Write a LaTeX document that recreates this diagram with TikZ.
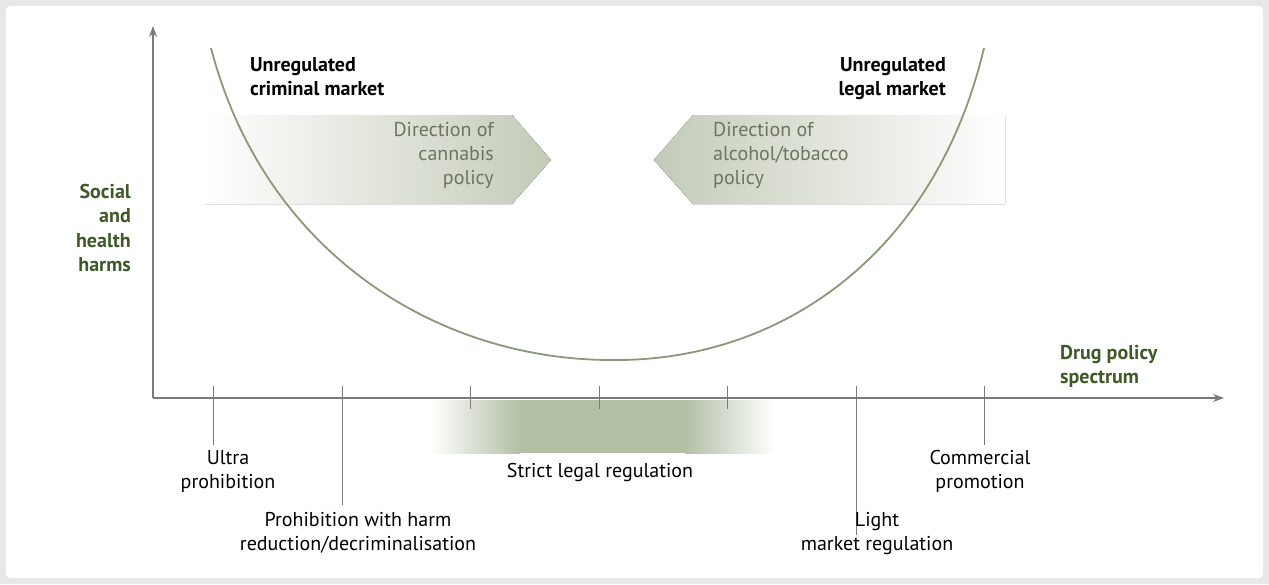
\documentclass[tikz,border=0pt]{standalone}
\usepackage{fontspec}
\setmainfont{PT Sans}
\usetikzlibrary{arrows.meta}
\definecolor{axisgray}{HTML}{7A7A7A}
\definecolor{curvegreen}{HTML}{8A9878}
\definecolor{darkgreen}{HTML}{3F5A28}
\definecolor{shadegreen}{HTML}{C3CBB8}
\definecolor{bandgreen}{HTML}{B3C0A6}
\definecolor{textgreen}{HTML}{6B7560}
\begin{document}
\begin{tikzpicture}[x=1pt,y=-1pt,
  lbl/.style={font=\fontsize{20}{24.3}\selectfont, inner sep=0pt},
  bold/.style={lbl, font=\fontsize{20}{24.3}\selectfont\bfseries},
  axis/.style={axisgray, line width=1.2pt},
  tick/.style={axisgray, line width=1pt}]
\useasboundingbox (0,0) rectangle (1269,584);
\fill[gray!18] (0,0) rectangle (1269,584);
\fill[white, rounded corners=4pt] (6,6) rectangle (1263,578);
% arrows
\fill[left color=white, right color=shadegreen] (205,115) -- (512,115) -- (551,160) -- (512,204) -- (205,204) -- cycle;
\fill[left color=shadegreen, right color=white] (1005,115) -- (693,115) -- (654,160) -- (693,204) -- (1005,204) -- cycle;
% band
\fill[left color=white, right color=bandgreen] (430,400) rectangle (520,453);
\fill[bandgreen] (519,400) rectangle (686,453);
\fill[left color=bandgreen, right color=white] (685,400) rectangle (775,453);
% axes
\coordinate (o) at (153,398);
\coordinate (ytop) at (153,26);
\coordinate (xend) at (1224,398);
\draw[axis,-{Stealth[length=11pt,width=8pt]}] (o) -- (ytop);
\draw[axis,-{Stealth[length=11pt,width=8pt]}] (o) -- (xend);
% ticks
\draw[tick] (213,386) -- (213,445);
\draw[tick] (342,386) -- (342,505);
\draw[tick] (470,386) -- (470,409);
\draw[tick] (599,386) -- (599,409);
\draw[tick] (727,386) -- (727,409);
\draw[tick] (856,386) -- (856,535);
\draw[tick] (984,386) -- (984,445);
% curve
\coordinate (c0) at (211,48);
\coordinate (cm) at (614,360);
\coordinate (c1) at (984,48);
\draw[curvegreen, line width=1.8pt] (c0) .. controls (265,255) and (440,361) .. (cm) .. controls (780,361) and (935,255) .. (c1);
% labels
\node[bold, anchor=north west, align=left] (ucm) at (250,57) {Unregulated\\criminal market};
\node[bold, anchor=north east, align=right] (ulm) at (946,57) {Unregulated\\legal market};
\node[lbl, anchor=north east, align=right, text=textgreen] (dc) at (494,122) {Direction of\\cannabis\\policy};
\node[lbl, anchor=north west, align=left, text=textgreen] (da) at (713,122) {Direction of\\alcohol/tobacco\\policy};
\node[bold, text=darkgreen, anchor=north east, align=right] (sh) at (131,184) {Social\\and\\health\\harms};
\node[bold, text=darkgreen, anchor=north west, align=left] (dp) at (1060,345) {Drug policy\\spectrum};
\node[lbl, anchor=north, align=center] (up) at (228,450) {Ultra\\prohibition};
\node[lbl, anchor=north, align=center] (ph) at (358,512) {Prohibition with harm\\reduction/decriminalisation};
\node[lbl, anchor=north] (sl) at (600,463) {Strict legal regulation};
\node[lbl, anchor=north, align=center] (lm) at (877,512) {Light\\market regulation};
\node[lbl, anchor=north, align=center] (cp) at (980,450) {Commercial\\promotion};
\end{tikzpicture}
\end{document}
